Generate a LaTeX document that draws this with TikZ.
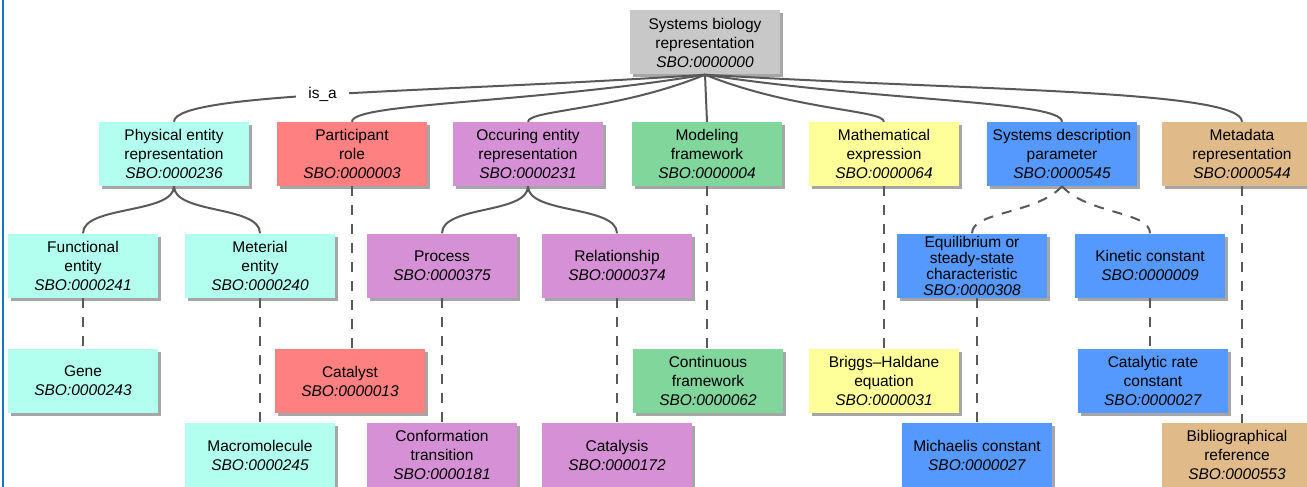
\documentclass[tikz,border=0pt]{standalone}
\usepackage{fontspec}
\setmainfont{Liberation Sans}
\usetikzlibrary{shadows}

\definecolor{sbogray}{HTML}{C8C8C8}
\definecolor{sbocyan}{HTML}{B3FFEF}
\definecolor{sbored}{HTML}{FF8080}
\definecolor{sbopurple}{HTML}{D690D6}
\definecolor{sbogreen}{HTML}{80D69B}
\definecolor{sboyellow}{HTML}{FFFF99}
\definecolor{sboblue}{HTML}{5599FF}
\definecolor{sbotan}{HTML}{E0BA88}
\definecolor{linegray}{HTML}{595959}
\definecolor{frameblue}{HTML}{1B75BC}

\tikzset{
    sbo/.style={fill=#1, minimum width=150pt, minimum height=64pt, inner sep=2pt,
        align=center, font=\fontsize{15.5}{19}\selectfont,
        drop shadow={shadow xshift=3pt, shadow yshift=-3pt, opacity=0.35, fill=black}},
    isa/.style={draw=linegray, line width=2pt},
    subclass/.style={draw=linegray, line width=2pt, dash pattern=on 10pt off 9pt},
}

\begin{document}
\begin{tikzpicture}[x=1pt, y=-1pt]

        \useasboundingbox (0,0) rectangle (1307,487);
        \draw[frameblue, line width=2pt] (2.5,0) -- (2.5,487);

        % Defining the terms, top level
        \node[sbo=sbogray] (root) at (705,42.5) {Systems biology\\representation\\\textit{SBO:0000000}};

        \node[sbo=sbocyan] (physical) at (174,154) {Physical entity\\representation\\\textit{SBO:0000236}};
        \node[sbo=sbored] (participant) at (352,154) {Participant\\role\\\textit{SBO:0000003}};
        \node[sbo=sbopurple] (occuring) at (528,154) {Occuring entity\\representation\\\textit{SBO:0000231}};
        \node[sbo=sbogreen] (modeling) at (707,154) {Modeling\\framework\\\textit{SBO:0000004}};
        \node[sbo=sboyellow] (mathexpr) at (884,154) {Mathematical\\expression\\\textit{SBO:0000064}};
        \node[sbo=sboblue] (sysparam) at (1062,154) {Systems description\\parameter\\\textit{SBO:0000545}};
        \node[sbo=sbotan, minimum width=160pt] (metadata) at (1242,154) {Metadata\\representation\\\textit{SBO:0000544}};

        % Second level
        \node[sbo=sbocyan] (functional) at (83,265.5) {Functional\\entity\\\textit{SBO:0000241}};
        \node[sbo=sbocyan] (material) at (260,265.5) {Meterial\\entity\\\textit{SBO:0000240}};
        \node[sbo=sbopurple] (process) at (442,265.5) {Process\\\textit{SBO:0000375}};
        \node[sbo=sbopurple] (relationship) at (617,265.5) {Relationship\\\textit{SBO:0000374}};
        \node[sbo=sboblue, font=\fontsize{15.5}{16}\selectfont] (equilibrium) at (972,265.5) {Equilibrium or\\steady-state\\characteristic\\\textit{SBO:0000308}};
        \node[sbo=sboblue] (kinetic) at (1150,265.5) {Kinetic constant\\\textit{SBO:0000009}};

        % Third level
        \node[sbo=sbocyan] (gene) at (83,381) {Gene\\\textit{SBO:0000243}};
        \node[sbo=sbored] (catalyst) at (350,381) {Catalyst\\\textit{SBO:0000013}};
        \node[sbo=sbogreen] (continuous) at (708,381) {Continuous\\framework\\\textit{SBO:0000062}};
        \node[sbo=sboyellow] (briggs) at (884,381) {Briggs--Haldane\\equation\\\textit{SBO:0000031}};
        \node[sbo=sboblue] (catrate) at (1153,381) {Catalytic rate\\constant\\\textit{SBO:0000027}};

        % Bottom level
        \node[sbo=sbocyan] (macromol) at (260,455) {Macromolecule\\\textit{SBO:0000245}};
        \node[sbo=sbopurple] (conformation) at (442,455) {Conformation\\transition\\\textit{SBO:0000181}};
        \node[sbo=sbopurple] (catalysis) at (617,455) {Catalysis\\\textit{SBO:0000172}};
        \node[sbo=sboblue] (michaelis) at (977,455) {Michaelis constant\\\textit{SBO:0000027}};
        \node[sbo=sbotan] (biblio) at (1237,455) {Bibliographical\\reference\\\textit{SBO:0000553}};

        % is_a links from the root
        \draw[isa] (root.south) .. controls +(-265,18) and +(0,-30) .. (physical.north)
            node[pos=.53, fill=white, inner xsep=12pt, inner ysep=1pt, font=\fontsize{15.5}{19}\selectfont] (isalabel) {is\_a};
        \draw[isa] (root.south) .. controls +(-176,29) and +(0,-19) .. (participant.north);
        \draw[isa] (root.south) .. controls +(-88,36) and +(0,-12) .. (occuring.north);
        \draw[isa] (root.south) -- (modeling.north);
        \draw[isa] (root.south) .. controls +(90,36) and +(0,-12) .. (mathexpr.north);
        \draw[isa] (root.south) .. controls +(178,27) and +(0,-21) .. (sysparam.north);
        \draw[isa] (root.south) .. controls +(268,16) and +(0,-32) .. (metadata.north);

        % is_a links, second level
        \draw[isa] (physical.south) .. controls +(0,28) and +(0,-28) .. (functional.north);
        \draw[isa] (physical.south) .. controls +(0,28) and +(0,-28) .. (material.north);
        \draw[isa] (occuring.south) .. controls +(0,28) and +(0,-28) .. (process.north);
        \draw[isa] (occuring.south) .. controls +(0,28) and +(0,-28) .. (relationship.north);
        \draw[subclass] (sysparam.south) .. controls +(-25,28) and +(0,-22) .. (equilibrium.north);
        \draw[subclass] (sysparam.south) .. controls +(25,28) and +(0,-22) .. (kinetic.north);

        % Dashed links down
        \draw[subclass] (functional.south) -- (gene.north);
        \draw[subclass] (material.south) -- (macromol.north);
        \draw[subclass] (participant.south) -- (participant.south |- catalyst.north);
        \draw[subclass] (process.south) -- (conformation.north);
        \draw[subclass] (relationship.south) -- (catalysis.north);
        \draw[subclass] (modeling.south) -- (modeling.south |- continuous.north);
        \draw[subclass] (mathexpr.south) -- (briggs.north);
        \draw[subclass] (michaelis.north |- equilibrium.south) -- (michaelis.north);
        \draw[subclass] (kinetic.south) -- (kinetic.south |- catrate.north);
        \draw[subclass] (metadata.south) -- (metadata.south |- biblio.north);

\end{tikzpicture}
\end{document}
